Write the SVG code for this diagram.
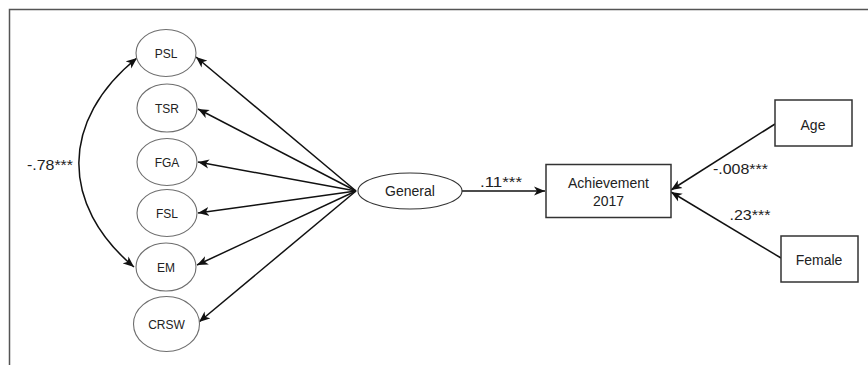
<svg xmlns="http://www.w3.org/2000/svg" width="868" height="365" viewBox="0 0 868 365">
<style>
  .ell { fill: #fff; stroke: #6e6e6e; stroke-width: 1.1; }
  .box { fill: #fff; stroke: #333; stroke-width: 1.5; }
  .lbl { font-family: "Liberation Sans", Arial, sans-serif; fill: #222; text-anchor: middle; }
  .s12 { font-size: 12px; }
  .s14 { font-size: 14px; }
  .conn { fill: none; stroke: #111; stroke-width: 1.5; }
  .frame { stroke: #555; stroke-width: 1.5; fill: none; }
</style>
<defs>
  <marker id="arr" markerUnits="userSpaceOnUse" markerWidth="12" markerHeight="10" refX="11" refY="5" orient="auto-start-reverse" viewBox="0 0 12 10">
    <path d="M0,0.5 L11,5 L0,9.5 L3,5 Z" fill="#111"/>
  </marker>
</defs>
<rect width="868" height="365" fill="#fff"/>
<path class="frame" d="M9.5,365 L9.5,9.5 L868,9.5"/>

<g id="connectors">
  <line class="conn" x1="356" y1="191" x2="196" y2="57" marker-end="url(#arr)"/>
  <line class="conn" x1="356" y1="191" x2="198" y2="109" marker-end="url(#arr)"/>
  <line class="conn" x1="356" y1="191" x2="198" y2="162" marker-end="url(#arr)"/>
  <line class="conn" x1="356" y1="191" x2="198" y2="213" marker-end="url(#arr)"/>
  <line class="conn" x1="356" y1="191" x2="197" y2="265" marker-end="url(#arr)"/>
  <line class="conn" x1="356" y1="191" x2="199" y2="322" marker-end="url(#arr)"/>
  <path class="conn" d="M137,58 C60,120 60,205 134,267" marker-start="url(#arr)" marker-end="url(#arr)"/>
  <line class="conn" x1="462" y1="191" x2="545" y2="191" marker-end="url(#arr)"/>
  <line class="conn" x1="775" y1="124" x2="671" y2="190" marker-end="url(#arr)"/>
  <line class="conn" x1="781" y1="258" x2="671" y2="192" marker-end="url(#arr)"/>
  <text class="lbl s14" x="50" y="170" textLength="46" lengthAdjust="spacingAndGlyphs">-.78***</text>
  <text class="lbl s14" x="501" y="187" textLength="42" lengthAdjust="spacingAndGlyphs">.11***</text>
  <text class="lbl s14" x="740.5" y="174" textLength="55" lengthAdjust="spacingAndGlyphs">-.008***</text>
  <text class="lbl s14" x="750" y="220" textLength="41" lengthAdjust="spacingAndGlyphs">.23***</text>
</g>

<g id="PSL"><ellipse class="ell" cx="166" cy="53" rx="30" ry="23.5"/><text class="lbl s12" x="166" y="57.5">PSL</text></g>
<g id="TSR"><ellipse class="ell" cx="167" cy="108" rx="30" ry="24"/><text class="lbl s12" x="167" y="112.5">TSR</text></g>
<g id="FGA"><ellipse class="ell" cx="167" cy="162" rx="30" ry="23.5"/><text class="lbl s12" x="167" y="166.5">FGA</text></g>
<g id="FSL"><ellipse class="ell" cx="167" cy="213" rx="30" ry="23.5"/><text class="lbl s12" x="167" y="217.5">FSL</text></g>
<g id="EM"><ellipse class="ell" cx="166" cy="267" rx="30" ry="24"/><text class="lbl s12" x="166" y="271.5">EM</text></g>
<g id="CRSW"><ellipse class="ell" cx="166.5" cy="324" rx="33" ry="27.5"/><text class="lbl s12" x="166.5" y="328.5">CRSW</text></g>

<g id="General"><ellipse class="ell" cx="410" cy="191" rx="52" ry="18" style="stroke:#333"/><text class="lbl s14" x="410" y="196">General</text></g>

<g id="Achievement"><rect class="box" x="546" y="164.5" width="125" height="53"/>
  <text class="lbl s14" x="608.5" y="188">Achievement</text>
  <text class="lbl s14" x="608.5" y="206">2017</text></g>

<g id="Age"><rect class="box" x="775" y="100" width="77" height="46"/><text class="lbl s14" x="813" y="130">Age</text></g>

<g id="Female"><rect class="box" x="781" y="236" width="77" height="46"/><text class="lbl s14" x="819" y="265">Female</text></g>
</svg>
